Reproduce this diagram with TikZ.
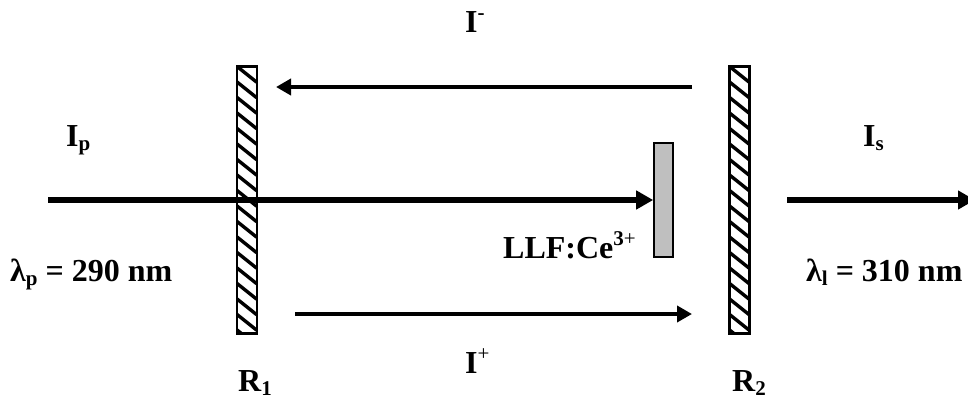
\documentclass[tikz,border=0pt]{standalone}
\usepackage{fontspec}
\setmainfont{Liberation Serif}
\usetikzlibrary{arrows.meta}
\newcommand{\lowtext}[1]{\raisebox{-4pt}{\fontsize{21}{24}\selectfont #1}}
\newcommand{\hightext}[1]{\raisebox{13pt}{\fontsize{21}{24}\selectfont #1}}
\tikzset{
  lbl/.style={anchor=base west,inner sep=0pt,font=\fontsize{32}{36}\selectfont\bfseries},
  mirror/.style={draw=black,line width=1.6pt,fill=white,minimum width=19pt,minimum height=266pt,inner sep=0pt},
  crystal/.style={draw=black,line width=1.6pt,fill=black!25,minimum width=19pt,minimum height=114pt,inner sep=0pt},
  thick arrow/.style={line width=6pt,-{Triangle[length=17pt,width=18pt]}},
  thin arrow/.style={line width=4pt,-{Triangle[length=15pt,width=16pt]}},
  hatchline/.style={line width=3.4pt,black}
}
\newcommand{\hatchlines}[2]{%
  \begin{scope}
    \clip (#1.south west) rectangle (#1.north east);
    \foreach \k in {-2,...,22}{
      \draw[hatchline] ([yshift=-#2*\k pt]#1.north west) -- ++(20pt,-16pt);
    }
  \end{scope}
  \draw[line width=1.6pt] (#1.south west) rectangle (#1.north east);
}
\begin{document}
\begin{tikzpicture}[x=1pt,y=-1pt]
\useasboundingbox (0,0) rectangle (968,399);
\node[mirror] (m1) at (247,200) {};
\node[mirror] (m2) at (739.5,200) {};
\hatchlines{m1}{15.5}
\hatchlines{m2}{15.5}
\node[crystal] (c) at (663.5,200) {};
\coordinate (pstart) at (48,200);
\coordinate (sstart) at (787,200);
\coordinate (send) at (975,200);
\coordinate (ua) at (692,87);
\coordinate (ub) at (276,87);
\coordinate (la) at (295,314);
\coordinate (lb) at (692,314);
\draw[thick arrow] (pstart) -- (c.west);
\draw[thick arrow] (sstart) -- (send);
\draw[thin arrow] (ua) -- (ub);
\draw[thin arrow] (la) -- (lb);
\node[lbl] (iminus) at (465,32) {I\hightext{-}};
\node[lbl] (ip) at (66,146) {I\lowtext{p}};
\node[lbl] (is) at (863,146) {I\lowtext{s}};
\node[lbl] (lp) at (10,281) {λ\lowtext{p} = 290 nm};
\node[lbl] (ll) at (806,281) {λ\lowtext{l} = 310 nm};
\node[lbl] (ce) at (503,258) {LLF:Ce\hightext{3{\normalfont+}}};
\node[lbl] (iplus) at (465,373) {I\hightext{\normalfont+}};
\node[lbl] (r1) at (238,391) {R\lowtext{1}};
\node[lbl] (r2) at (732,391) {R\lowtext{2}};
\end{tikzpicture}
\end{document}
